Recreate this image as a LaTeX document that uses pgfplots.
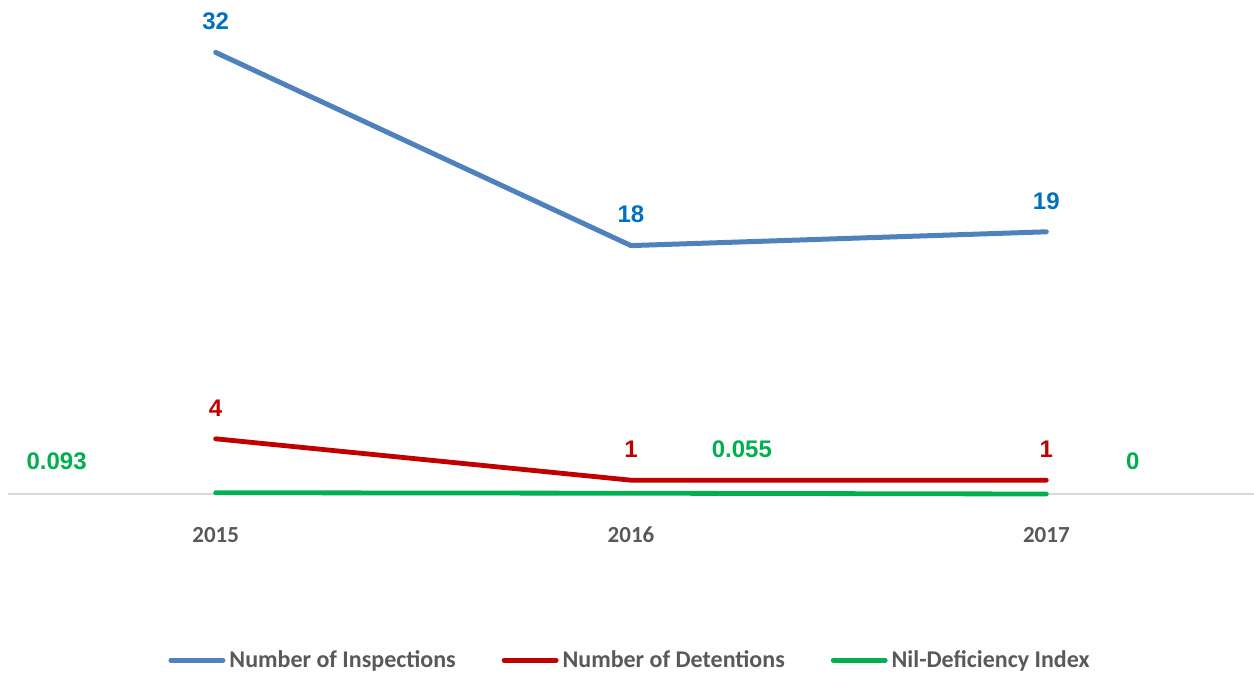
\documentclass[border=0pt]{standalone}
\usepackage{fontspec}
\setmainfont{Carlito}
\newfontfamily\arialfont{Liberation Sans}
\usepackage{pgfplots}
\pgfplotsset{compat=1.18}

\definecolor{insp}{RGB}{79,129,189}
\definecolor{inspLbl}{RGB}{0,112,192}
\definecolor{det}{RGB}{192,0,0}
\definecolor{nil}{RGB}{0,176,80}
\definecolor{txtgray}{RGB}{89,89,89}
\definecolor{axgray}{RGB}{217,217,217}

\begin{document}
\begin{tikzpicture}
\useasboundingbox (0,0) rectangle (627pt,337.5pt);
\begin{axis}[
    at={(4pt,90.5pt)}, anchor=south west,
    scale only axis,
    width=623pt, height=241.5pt,
    xmin=-0.5, xmax=2.5,
    ymin=0, ymax=35,
    clip=false,
    axis x line*=bottom,
    axis y line=none,
    x axis line style={-, draw=axgray, line width=0.9pt},
    xtick={0,1,2},
    xticklabels={2015,2016,2017},
    major tick length=0pt,
    xticklabel style={anchor=center, yshift=-20.5pt, font=\fontsize{11.5}{13}\selectfont\bfseries, text=txtgray},
    nodes near coords={\pgfmathprintnumber[assume math mode=true]{\pgfplotspointmeta}},
    every node near coord/.append style={anchor=center, yshift=15.5pt, font=\arialfont\fontsize{12}{14}\selectfont\bfseries},
    legend columns=3,
    legend style={at={(0.5,-0.344)}, anchor=center, draw=none, fill=none,
        font=\fontsize{12}{14}\selectfont\bfseries, text=txtgray,
        /tikz/every even column/.append style={column sep=21pt},
        inner sep=0pt, nodes={inner sep=2pt}},
    legend image code/.code={\draw[#1, line cap=round] (0pt,0pt) -- (26pt,0pt);},
]
\addplot[insp, line width=2.5pt, line cap=round, line join=round,
    every node near coord/.append style={text=inspLbl}]
    coordinates {(0,32) (1,18) (2,19)};
\addlegendentry{Number of Inspections}
\addplot[det, line width=2.4pt, line cap=round, line join=round,
    every node near coord/.append style={text=det}]
    coordinates {(0,4) (1,1) (2,1)};
\addlegendentry{Number of Detentions}
\addplot[nil, line width=2.4pt, line cap=round, line join=round, nodes near coords={}]
    coordinates {(0,0.093) (1,0.055) (2,0)};
\addlegendentry{Nil-Deficiency Index}

\begin{scope}[every node/.style={text=nil, font=\arialfont\fontsize{12}{14}\selectfont\bfseries, anchor=center}]
\node at (axis cs:-0.383,2.39) {0.093};
\node at (axis cs:1.267,3.26) {0.055};
\node at (axis cs:2.208,2.39) {0};
\end{scope}
\end{axis}
\end{tikzpicture}
\end{document}
